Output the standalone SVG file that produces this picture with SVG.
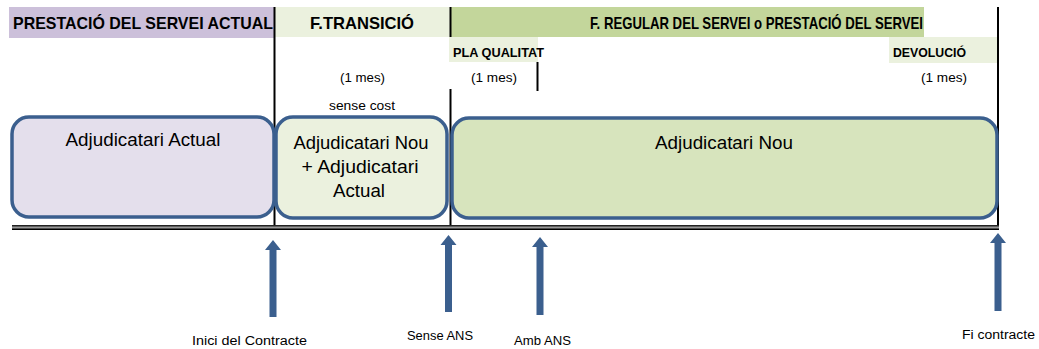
<svg xmlns="http://www.w3.org/2000/svg" width="1039" height="349" viewBox="0 0 1039 349">
<style>
text{font-family:"Liberation Sans",Arial,sans-serif;fill:#000;}
.hd{font-weight:bold;font-size:17px;}
.sm{font-weight:bold;font-size:12px;}
.lbl{font-size:12.5px;}
.box{stroke:#3b5f8e;stroke-width:3.5;}
.bt{font-size:17.5px;text-anchor:middle;}
.div{stroke:#000;stroke-width:2;fill:none;}
.arr{fill:#3b5f8e;}
</style>
<rect width="1039" height="349" fill="#fff"/>
<g id="headers">
<rect x="9" y="7" width="265" height="31" fill="#ccc0da"/>
<rect x="275" y="7" width="175" height="30" fill="#ebf1de"/>
<rect x="451" y="7" width="473" height="30" fill="#c3d69b"/>
<rect x="449" y="37" width="89" height="25" fill="#ebf1de"/>
<rect x="889" y="37" width="108" height="26" fill="#ebf1de"/>
<text class="hd" x="13" y="29" textLength="260" lengthAdjust="spacingAndGlyphs">PRESTACIÓ DEL SERVEI ACTUAL</text>
<text class="hd" x="310" y="29" textLength="104" lengthAdjust="spacingAndGlyphs">F.TRANSICIÓ</text>
<text class="hd" x="590" y="29" textLength="333" lengthAdjust="spacingAndGlyphs">F. REGULAR DEL SERVEI o PRESTACIÓ DEL SERVEI</text>
<text class="sm" x="453" y="57" textLength="91" lengthAdjust="spacingAndGlyphs">PLA QUALITAT</text>
<text class="sm" x="893" y="57" textLength="73" lengthAdjust="spacingAndGlyphs">DEVOLUCIÓ</text>
<text class="lbl" x="340" y="82" textLength="45" lengthAdjust="spacingAndGlyphs">(1 mes)</text>
<text class="lbl" x="471" y="82" textLength="46" lengthAdjust="spacingAndGlyphs">(1 mes)</text>
<text class="lbl" x="921" y="82" textLength="46" lengthAdjust="spacingAndGlyphs">(1 mes)</text>
<text class="lbl" x="329" y="110" textLength="66" lengthAdjust="spacingAndGlyphs">sense cost</text>
</g>
<g id="connectors">
<line class="div" x1="274.5" y1="7" x2="274.5" y2="226"/>
<line class="div" x1="450.5" y1="7" x2="450.5" y2="37"/>
<line class="div" x1="450.5" y1="89" x2="450.5" y2="226"/>
<line class="div" x1="537.5" y1="62" x2="537.5" y2="91"/>
<line class="div" x1="998" y1="7" x2="998" y2="229"/>
<rect x="12" y="225" width="987" height="5" fill="#9a9a9a"/>
<line x1="12" y1="225.8" x2="999" y2="225.8" stroke="#222" stroke-width="1.6"/>
<line x1="12" y1="229.2" x2="999" y2="229.2" stroke="#000" stroke-width="1.6"/>
</g>
<g id="node-actual">
<rect class="box" x="12" y="117" width="262" height="100" rx="17" fill="#e4dfec"/>
<text class="bt" x="143" y="146" textLength="155" lengthAdjust="spacingAndGlyphs">Adjudicatari Actual</text>
</g>
<g id="node-transicio">
<rect class="box" x="276" y="117" width="171" height="101" rx="17" fill="#ebf1de"/>
<text class="bt" x="361" y="149" textLength="135" lengthAdjust="spacingAndGlyphs">Adjudicatari Nou</text>
<text class="bt" x="360" y="173" textLength="117" lengthAdjust="spacingAndGlyphs">+ Adjudicatari</text>
<text class="bt" x="359" y="197" textLength="52" lengthAdjust="spacingAndGlyphs">Actual</text>
</g>
<g id="node-nou">
<rect class="box" x="452" y="118" width="545" height="100" rx="17" fill="#d7e4bd"/>
<text class="bt" x="724" y="149" textLength="138" lengthAdjust="spacingAndGlyphs">Adjudicatari Nou</text>
</g>
<g id="milestone-inici">
<polygon class="arr" points="273,240 281,250 276.5,250 276.5,317 269.5,317 269.5,250 265,250"/>
<text class="lbl" x="192" y="345" textLength="115" lengthAdjust="spacingAndGlyphs">Inici del Contracte</text>
</g>
<g id="milestone-sense">
<polygon class="arr" points="448.5,235 456.5,245 452,245 452,312 445,312 445,245 440.5,245"/>
<text class="lbl" x="407" y="340" textLength="66" lengthAdjust="spacingAndGlyphs">Sense ANS</text>
</g>
<g id="milestone-amb">
<polygon class="arr" points="540,237 548,247 543.5,247 543.5,315 536.5,315 536.5,247 532,247"/>
<text class="lbl" x="514" y="345" textLength="57" lengthAdjust="spacingAndGlyphs">Amb ANS</text>
</g>
<g id="milestone-fi">
<polygon class="arr" points="998,233 1006,243 1001.5,243 1001.5,311 994.5,311 994.5,243 990,243"/>
<text class="lbl" x="962" y="339" textLength="73" lengthAdjust="spacingAndGlyphs">Fi contracte</text>
</g>
</svg>
